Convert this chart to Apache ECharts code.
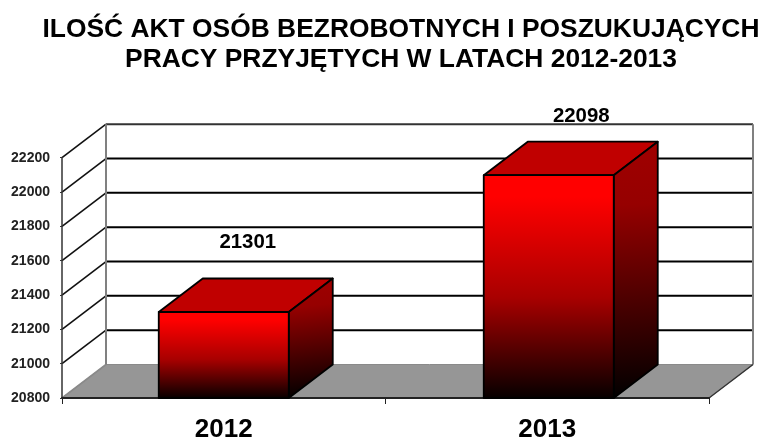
<!DOCTYPE html>
<html><head><meta charset="utf-8">
<script src="https://cdn.jsdelivr.net/npm/echarts@6/dist/echarts.min.js"></script>
<style>html,body{margin:0;padding:0;background:#fff}#c{width:763px;height:439px}</style>
</head><body><div id="c"></div>
<script>
var titleText = 'ILOŚĆ AKT OSÓB BEZROBOTNYCH I POSZUKUJĄCYCH\nPRACY PRZYJĘTYCH W LATACH 2012-2013';
var categories = ['2012', '2013'];
var values = [21301, 22098];
var barLabels = ['21301', '22098'];
var tickValues = [20800, 21000, 21200, 21400, 21600, 21800, 22000, 22200];

var FONT = '"Liberation Sans", Arial, sans-serif';
var DX = 44, DY = -33.5, BAR_W = 130;
var barShift = [0, 1.5];
var labelShift = [[24, -70], [34, -59]];

function poly(pts, style) { return { type: 'polygon', shape: { points: pts }, style: style }; }
function line(x1, y1, x2, y2, color, w) {
  return { type: 'line', shape: { x1: x1, y1: y1, x2: x2, y2: y2 }, style: { stroke: color, lineWidth: w } };
}

function renderWalls(params, api) {
  var kids = [];
  var b = api.coord([0, tickValues[0]]);
  var cs = params.coordSys;
  var L = cs.x, R = cs.x + cs.width, B = b[1];
  kids.push(poly([[L, B], [R, B], [R + DX, B + DY], [L + DX, B + DY]], { fill: '#969696', stroke: '#8a8a8a', lineWidth: 1 }));
  tickValues.forEach(function (v, i) {
    var y = api.coord([0, v])[1];
    var top = i === tickValues.length - 1;
    if (i > 0) kids.push(line(L + DX, y + DY, R + DX, y + DY, top ? '#333333' : '#000000', 2));
    kids.push(line(L, y, L + DX, y + DY, i === 0 ? '#8a8a8a' : '#111111', 1.6));
  });
  var yt = api.coord([0, tickValues[tickValues.length - 1]])[1];
  kids.push(line(L + DX, yt + DY, L + DX, B + DY, '#808080', 2));
  kids.push(line(R + DX, yt + DY, R + DX, B + DY, '#808080', 2));
  kids.push(line(R, B, R + DX, B + DY, '#333333', 1.4));
  return { type: 'group', children: kids };
}

function renderBar(params, api) {
  var i = api.value(0), v = api.value(1);
  var top = api.coord([i, v]), base = api.coord([i, tickValues[0]]);
  var cx = top[0] + barShift[i];
  var x0 = cx - BAR_W / 2, x1 = cx + BAR_W / 2, yT = top[1], yB = base[1];
  var edge = { stroke: '#000000', lineWidth: 1.8, lineJoin: 'round' };
  function st(fill) { return Object.assign({ fill: fill }, edge); }
  var front = new echarts.graphic.LinearGradient(0, 0, 0, 1, [
    { offset: 0, color: '#ff0000' }, { offset: 0.1, color: '#ff0000' }, { offset: 0.55, color: '#a80000' }, { offset: 1, color: '#050000' }]);
  var side = new echarts.graphic.LinearGradient(0, 0, 0.3, 1, [
    { offset: 0, color: '#a00000' }, { offset: 0.25, color: '#960000' }, { offset: 1, color: '#000000' }]);
  return { type: 'group', children: [
    poly([[x0, yT], [x1, yT], [x1 + DX, yT + DY], [x0 + DX, yT + DY]], st('#c00000')),
    poly([[x1, yT], [x1 + DX, yT + DY], [x1 + DX, yB + DY], [x1, yB]], st(side)),
    poly([[x0, yT], [x1, yT], [x1, yB], [x0, yB]], st(front)),
    { type: 'text', style: {
      x: top[0] + labelShift[i][0], y: yT + labelShift[i][1], text: barLabels[i],
      fill: '#000', font: 'bold 20.4px ' + FONT, textAlign: 'center', textVerticalAlign: 'middle' } }
  ] };
}

var chart = echarts.init(document.getElementById('c'), null, { renderer: 'canvas' });
chart.setOption({
  animation: false,
  backgroundColor: '#ffffff',
  title: { text: titleText, left: 396, top: 10, textAlign: 'center',
    textStyle: { fontFamily: FONT, fontWeight: 'bold', fontSize: 26.4, color: '#000', lineHeight: 30 } },
  grid: { left: 62, right: 54, top: 157.7, bottom: 41, containLabel: false, outerBoundsMode: 'none' },
  xAxis: { type: 'category', data: categories, z: 5,
    axisLine: { lineStyle: { color: '#222222', width: 2 } },
    axisTick: { show: true, alignWithLabel: false, length: 6, lineStyle: { color: '#222222', width: 1 } },
    axisLabel: { fontFamily: FONT, fontWeight: 'bold', fontSize: 26, color: '#000', margin: 19 },
    splitLine: { show: false } },
  yAxis: { type: 'value', min: 20800, max: 22200, interval: 200, z: 5,
    axisLine: { show: true, lineStyle: { color: '#333333', width: 1.5 } },
    axisTick: { show: true, length: 2, lineStyle: { color: '#333333', width: 1 } },
    axisLabel: { fontFamily: FONT, fontWeight: 'bold', fontSize: 14, color: '#222', margin: 12,
      formatter: function (v) { return String(v); } },
    splitLine: { show: false } },
  series: [
    { type: 'custom', name: 'walls', renderItem: renderWalls, data: [[0, tickValues[0]]], clip: false, silent: true, z: 1 },
    { type: 'custom', name: 'bars', renderItem: renderBar, clip: false, z: 10,
      encode: { x: 0, y: 1 }, data: values.map(function (v, i) { return [i, v]; }) }
  ]
});
</script></body></html>
